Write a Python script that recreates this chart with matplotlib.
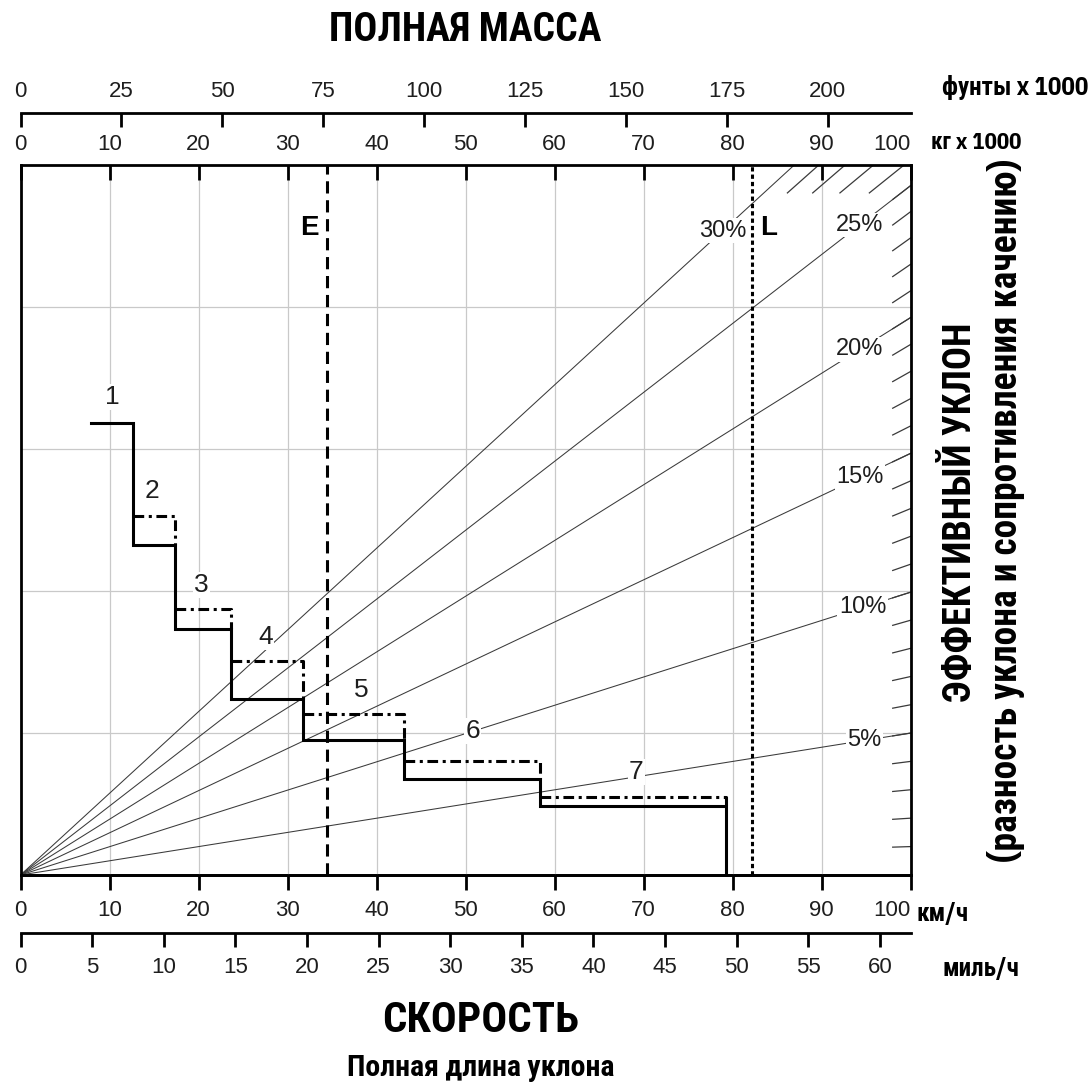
import numpy as np
import matplotlib
matplotlib.use("Agg")
import matplotlib.pyplot as plt

# ---------------- data ----------------
kmh_ticks = list(range(0, 101, 10))
mph_ticks = list(range(0, 61, 5))
kg_ticks = list(range(0, 101, 10))
lb_ticks = list(range(0, 201, 25))
grade_lines = [5, 10, 15, 20, 25, 30]
grade_ticks_right = list(range(1, 26))
grade_ticks_top = [26, 27, 28, 29]
gears = [1, 2, 3, 4, 5, 6, 7]
step_edges = [7.9, 12.67, 17.36, 23.65, 31.78, 43.12, 58.34, 79.22]   # km/h
step_solid = [15.91, 11.61, 8.65, 6.18, 4.75, 3.38, 2.43]
step_dashdot = [None, 12.63, 9.35, 7.54, 5.67, 4.01, 2.73]
mass_empty = 34.4      # kg x 1000
mass_loaded = 82.2     # kg x 1000

# ---------------- fonts ----------------
COND = ["IBM Plex Sans Condensed", "Roboto Condensed", "DejaVu Sans"]
REG = ["Liberation Sans", "DejaVu Sans"]
plt.rcParams["font.family"] = REG

W, H = 1092, 1091
fig = plt.figure(figsize=(W / 100, H / 100), dpi=100)
L, R, T, B = 20.5, 910.5, 164.5, 875.0
ax = fig.add_axes([L / W, 1 - B / H, (R - L) / W, (B - T) / H])
ax.set_xlim(0, 100)
ax.set_ylim(0, 25)

TICK_FS = 16
TXT = "#1e1e1e"
GRAY_LINE = "#3a3a3a"

# grid + kg ticks (top, inward) on main axes
ax.set_axisbelow(True)
ax.set_yticks([5, 10, 15, 20])
ax.tick_params(axis="y", length=0, labelleft=False)
ax.set_xticks(kg_ticks)
ax.grid(True, color="#c9c9c9", lw=0.9)
for s in ax.spines.values():
    s.set_linewidth(2.0)
ax.tick_params(axis="x", direction="in", length=11, width=2.0, labelsize=TICK_FS,
               pad=7, top=True, labeltop=True, bottom=False, labelbottom=False,
               labelcolor=TXT)


def sgr(g):
    return np.sin(np.arctan(g / 100.0))


# grade lines
for g in grade_lines:
    s = sgr(g)
    mend = min(100.0, 25.0 / s)
    ax.plot([0, mend], [0, mend * s], color=GRAY_LINE, lw=0.75, zorder=2,
            solid_capstyle="butt")
# hatch ticks on right edge
for g in grade_ticks_right:
    s = sgr(g)
    ax.plot([98, 100], [98 * s, 100 * s], color=GRAY_LINE, lw=0.9, zorder=2,
            clip_on=False)
# hatch ticks on top edge
for g in grade_ticks_top:
    s = sgr(g)
    ax.plot([24 / s, 25 / s], [24, 25], color=GRAY_LINE, lw=0.9, zorder=2)

# grade labels
label_mass = {5: 94.8, 10: 94.6, 15: 94.3, 20: 94.3, 25: 94.3, 30: 78.9}
for g in grade_lines:
    m = label_mass[g]
    ax.text(m, m * sgr(g), f"{g}%", ha="center", va="center", fontsize=17,
            color=TXT, zorder=4,
            bbox=dict(boxstyle="square,pad=0.06", fc="white", ec="none"))

# empty / loaded vertical lines
ax.axvline(mass_empty, color="black", lw=2.2, ls=(0, (4, 2.2)), zorder=5)
ax.axvline(mass_loaded, color="black", lw=2.2, ls=(0, (1.4, 1.0)), zorder=5)
ax.text(mass_empty - 0.9, 22.75, "E", ha="right", va="center", fontsize=20,
        fontweight="bold", zorder=6)
ax.text(mass_loaded + 0.9, 22.75, "L", ha="left", va="center", fontsize=20,
        fontweight="bold", zorder=6)

# solid step curve
xs, ys = [], []
for i in range(len(gears)):
    xs += [step_edges[i], step_edges[i + 1]]
    ys += [step_solid[i], step_solid[i]]
xs.append(step_edges[-1])
ys.append(0)
ax.plot(xs, ys, color="black", lw=2.2, zorder=6, solid_joinstyle="miter")

# dash-dot ranges
for i in range(1, len(gears)):
    if step_dashdot[i] is None:
        continue
    ax.plot([step_edges[i], step_edges[i + 1], step_edges[i + 1]],
            [step_dashdot[i], step_dashdot[i], step_solid[i]],
            color="black", lw=2.2, ls=(0, (3.5, 1.5, 1.0, 1.5)), zorder=6)

# gear numbers
gear_pos = [(10.3, 16.82), (14.8, 13.5), (20.3, 10.2), (27.5, 8.37),
            (38.3, 6.51), (50.8, 5.07), (69.2, 3.62)]
for n, (gx, gy) in zip(gears, gear_pos):
    ax.text(gx, gy, str(n), ha="center", va="center", fontsize=19,
            color=TXT, zorder=4,
            bbox=dict(boxstyle="square,pad=0.05", fc="white", ec="none"))

# bottom km/h axis (ticks outward)
kmh_ax = ax.secondary_xaxis("bottom")
kmh_ax.set_xticks(kmh_ticks)
kmh_ax.tick_params(direction="out", length=11, width=2.0, labelsize=TICK_FS, pad=7,
                   labelcolor=TXT)
kmh_ax.spines["bottom"].set_linewidth(2.0)

# pound axis
lb_ax = ax.secondary_xaxis(1 + (T - 113) / (B - T),
                           functions=(lambda k: k * 2.20462, lambda p: p / 2.20462))
lb_ax.set_xticks(lb_ticks)
lb_ax.tick_params(direction="in", length=10, width=2.0, labelsize=TICK_FS, pad=8,
                  labelcolor=TXT)
lb_ax.spines["top"].set_linewidth(2.0)

# mph axis
mph_ax = ax.secondary_xaxis(-(933 - B) / (B - T),
                            functions=(lambda k: k / 1.609344, lambda m: m * 1.609344))
mph_ax.set_xticks(mph_ticks)
mph_ax.tick_params(direction="out", length=10, width=2.0, labelsize=TICK_FS, pad=7,
                   labelcolor=TXT)
mph_ax.spines["bottom"].set_linewidth(2.0)

# the "100" labels at the right end sit flush against the frame
for a in (ax, kmh_ax):
    last = a.xaxis.get_major_ticks()[-1]
    last.label1.set_horizontalalignment("right")
    last.label2.set_horizontalalignment("right")


# unit labels & titles
def ftxt(x, y, s, **kw):
    fig.text(x / W, 1 - y / H, s, family=COND, fontweight="bold", **kw)


ftxt(942, 88, "фунты x 1000", fontsize=18, ha="left", va="center")
ftxt(931, 143, "кг x 1000", fontsize=16.5, ha="left", va="center")
ftxt(917, 914, "км/ч", fontsize=18, ha="left", va="center")
ftxt(943, 969, "миль/ч", fontsize=18, ha="left", va="center")
ftxt(465, 30, "ПОЛНАЯ МАССА", fontsize=28.5, ha="center", va="center")
ftxt(481, 1021, "СКОРОСТЬ", fontsize=31, ha="center", va="center")
ftxt(481, 1068, "Полная длина уклона", fontsize=21.5, ha="center", va="center")
ftxt(961, 512, "ЭФФЕКТИВНЫЙ УКЛОН", fontsize=27.5, ha="center", va="center",
     rotation=90)
ftxt(1006, 510, "(разность уклона и сопротивления качению)", fontsize=27,
     ha="center", va="center", rotation=90)

fig.savefig("out.png", dpi=100)
